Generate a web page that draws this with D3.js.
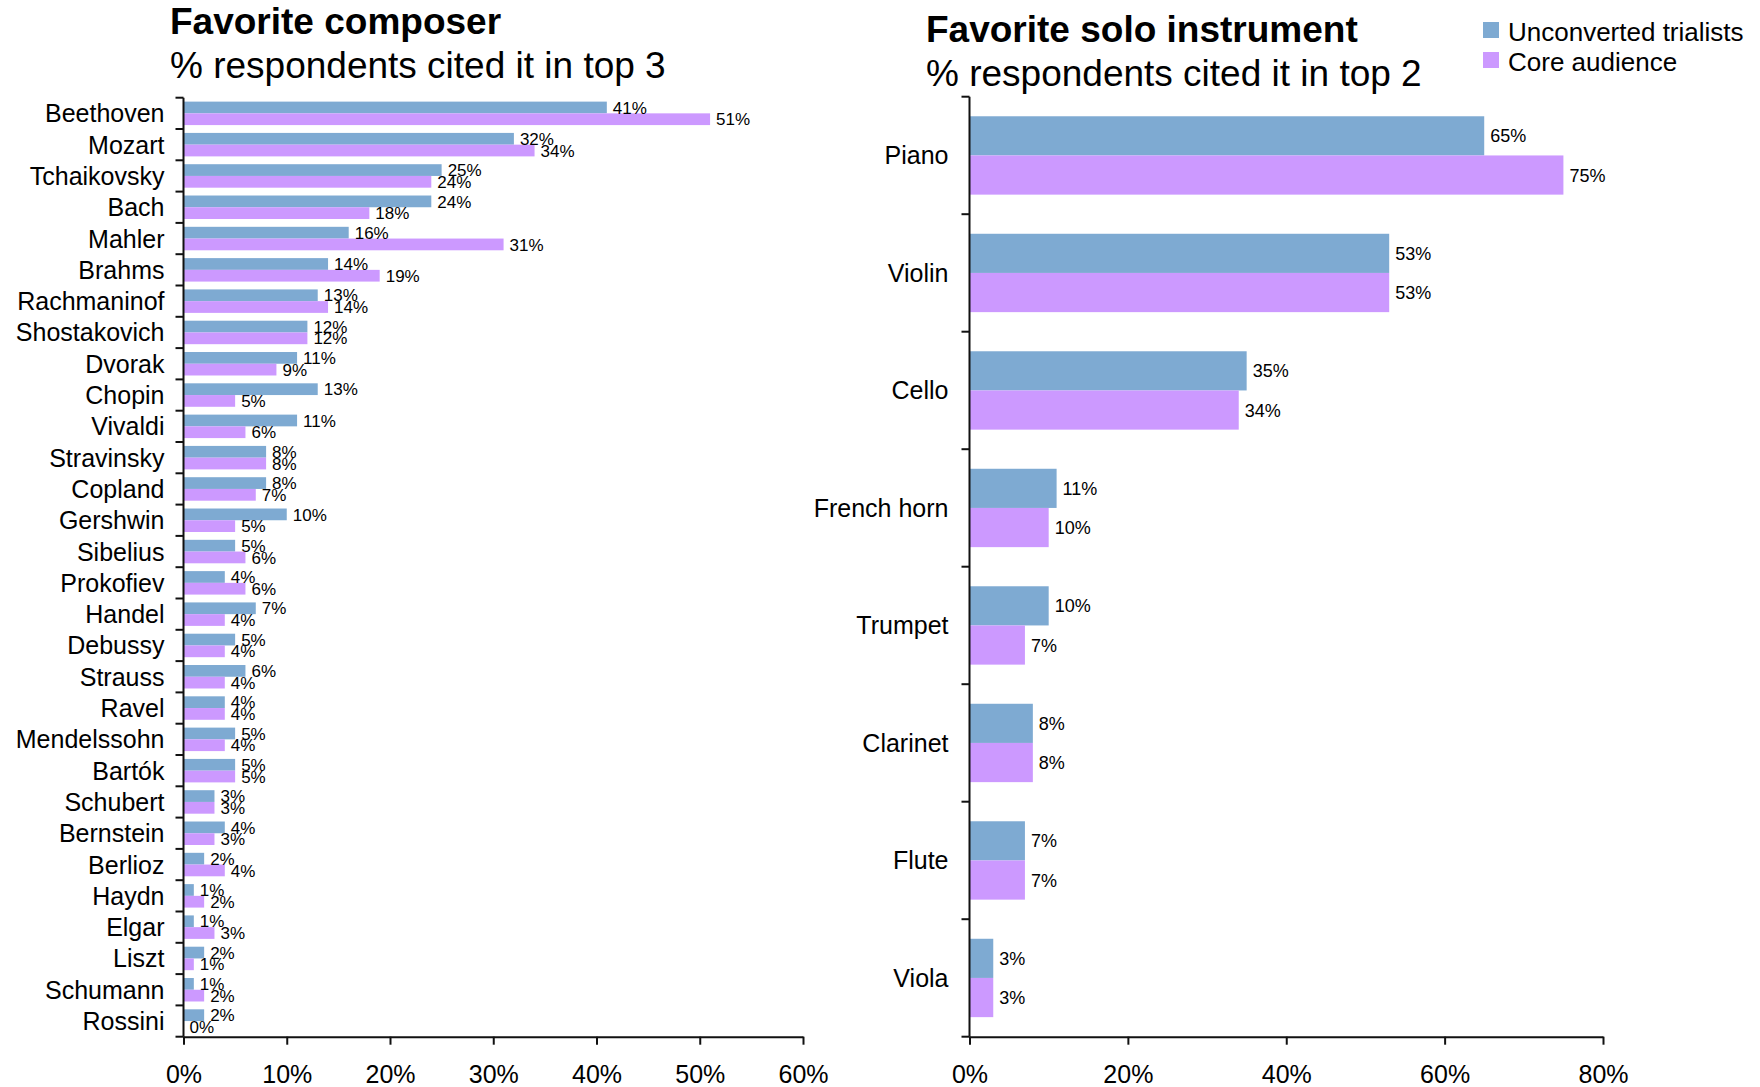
<!DOCTYPE html>
<head>
  <meta charset="utf-8">
  <title>Favorite composer / solo instrument</title>
  <style>
    body { margin: 0; background: #fff; }
    text { font-family: "Liberation Sans", Arial, sans-serif; fill: #000; }
    .axis path, .axis line { stroke: #111; stroke-width: 2; }
  </style>
</head>

<body>
<div id="chart"></div>
<script src="https://cdn.jsdelivr.net/npm/d3@7"></script>
<script>

// series names + colours
var seriesNames = ["Unconverted trialists", "Core audience"];
var seriesColors = ["#7eaad2", "#cc99ff"];

// left panel
var composers = ["Beethoven", "Mozart", "Tchaikovsky", "Bach", "Mahler", "Brahms",
  "Rachmaninof", "Shostakovich", "Dvorak", "Chopin", "Vivaldi", "Stravinsky",
  "Copland", "Gershwin", "Sibelius", "Prokofiev", "Handel", "Debussy", "Strauss",
  "Ravel", "Mendelssohn", "Bartók", "Schubert", "Bernstein", "Berlioz", "Haydn",
  "Elgar", "Liszt", "Schumann", "Rossini"];
var composerTrialists = [41, 32, 25, 24, 16, 14, 13, 12, 11, 13, 11, 8, 8, 10, 5, 4, 7, 5, 6, 4, 5, 5, 3, 4, 2, 1, 1, 2, 1, 2];
var composerCore      = [51, 34, 24, 18, 31, 19, 14, 12, 9, 5, 6, 8, 7, 5, 6, 6, 4, 4, 4, 4, 4, 5, 3, 3, 4, 2, 3, 1, 2, 0];
var composerTicks = [0, 10, 20, 30, 40, 50, 60];

// right panel
var instruments = ["Piano", "Violin", "Cello", "French horn", "Trumpet", "Clarinet", "Flute", "Viola"];
var instrumentTrialists = [65, 53, 35, 11, 10, 8, 7, 3];
var instrumentCore      = [75, 53, 34, 10, 7, 8, 7, 3];
var instrumentTicks = [0, 20, 40, 60, 80];

var width = 1760, height = 1087;

var svg = d3.select("#chart").append("svg")
    .attr("width", width)
    .attr("height", height);

function panel(opt) {
  var g = svg.append("g");

  var x = d3.scaleLinear()
      .domain([0, opt.ticks[opt.ticks.length - 1]])
      .range([opt.left, opt.right]);

  var y = d3.scaleBand()
      .domain(opt.cats)
      .range([opt.top, opt.bottom])
      .paddingInner(opt.pad)
      .paddingOuter(opt.pad / 2);

  var y1 = d3.scaleBand()
      .domain([0, 1])
      .range([0, y.bandwidth()]);

  var rows = opt.cats.map(function(c, i) {
    return {cat: c, vals: [opt.a[i], opt.b[i]]};
  });

  var grp = g.selectAll(".row")
      .data(rows)
      .enter().append("g")
      .attr("transform", function(d) { return "translate(0," + y(d.cat) + ")"; });

  grp.selectAll("rect")
      .data(function(d) { return d.vals; })
      .enter().append("rect")
      .attr("x", x(0))
      .attr("y", function(d, i) { return y1(i); })
      .attr("width", function(d) { return x(d) - x(0); })
      .attr("height", y1.bandwidth())
      .attr("fill", function(d, i) { return seriesColors[i]; });

  grp.selectAll(".val")
      .data(function(d) { return d.vals; })
      .enter().append("text")
      .attr("class", "val")
      .attr("x", function(d) { return x(d) + 6; })
      .attr("y", function(d, i) { return y1(i) + y1.bandwidth() / 2; })
      .attr("dy", "0.36em")
      .style("font-size", opt.valSize + "px")
      .text(function(d) { return d + "%"; });

  // category labels
  g.selectAll(".cat")
      .data(opt.cats)
      .enter().append("text")
      .attr("x", opt.left - opt.labelGap)
      .attr("y", function(d) { return y(d) - y.step() * y.paddingInner() / 2 + y.step() / 2; })
      .attr("dy", "0.36em")
      .attr("text-anchor", "end")
      .style("font-size", opt.labelSize + "px")
      .text(function(d) { return d; });

  // y axis: line + ticks at band boundaries
  var step = y.step();
  var bounds = d3.range(opt.cats.length + 1).map(function(i) { return opt.top + i * step; });
  g.append("line")
      .attr("x1", opt.left).attr("x2", opt.left)
      .attr("y1", opt.top).attr("y2", opt.bottom)
      .attr("stroke", "#111").attr("stroke-width", 2);
  g.selectAll(".ytick")
      .data(bounds)
      .enter().append("line")
      .attr("x1", opt.left - 8).attr("x2", opt.left)
      .attr("y1", function(d) { return d; }).attr("y2", function(d) { return d; })
      .attr("stroke", "#111").attr("stroke-width", 2);

  // x axis
  var xAxis = g.append("g")
      .attr("class", "axis")
      .attr("transform", "translate(0," + opt.bottom + ")")
      .call(d3.axisBottom(x)
        .tickValues(opt.ticks)
        .tickSize(8)
        .tickSizeOuter(0)
        .tickPadding(21)
        .tickFormat(function(d) { return d + "%"; }));
  xAxis.selectAll("text")
      .style("font-size", "25px")
      .style("font-family", "'Liberation Sans', Arial, sans-serif")
      .attr("fill", "#000");

  // titles
  g.append("text")
      .attr("x", opt.titleX)
      .attr("y", opt.titleY)
      .style("font-size", "37px")
      .style("font-weight", "bold")
      .text(opt.title);
  g.append("text")
      .attr("x", opt.titleX)
      .attr("y", opt.titleY + 44)
      .style("font-size", "37px")
      .text(opt.subtitle);
}

panel({
  cats: composers, a: composerTrialists, b: composerCore, ticks: composerTicks,
  left: 183.5, right: 803, top: 97.7, bottom: 1036.7, pad: 0.25,
  labelGap: 19, labelSize: 25, valSize: 17,
  title: "Favorite composer", subtitle: "% respondents cited it in top 3",
  titleX: 170, titleY: 34
});

panel({
  cats: instruments, a: instrumentTrialists, b: instrumentCore, ticks: instrumentTicks,
  left: 969.5, right: 1603, top: 96.7, bottom: 1036.7, pad: 0.333,
  labelGap: 21, labelSize: 25, valSize: 18,
  title: "Favorite solo instrument", subtitle: "% respondents cited it in top 2",
  titleX: 926, titleY: 42
});

// legend
var legend = svg.append("g")
    .selectAll("g")
    .data(seriesNames)
    .enter().append("g")
    .attr("transform", function(d, i) { return "translate(1483," + (22 + i * 30) + ")"; });

legend.append("rect")
    .attr("width", 16)
    .attr("height", 16)
    .attr("fill", function(d, i) { return seriesColors[i]; });

legend.append("text")
    .attr("x", 25)
    .attr("y", 19)
    .style("font-size", "26px")
    .text(function(d) { return d; });

</script>
</body>
</html>
